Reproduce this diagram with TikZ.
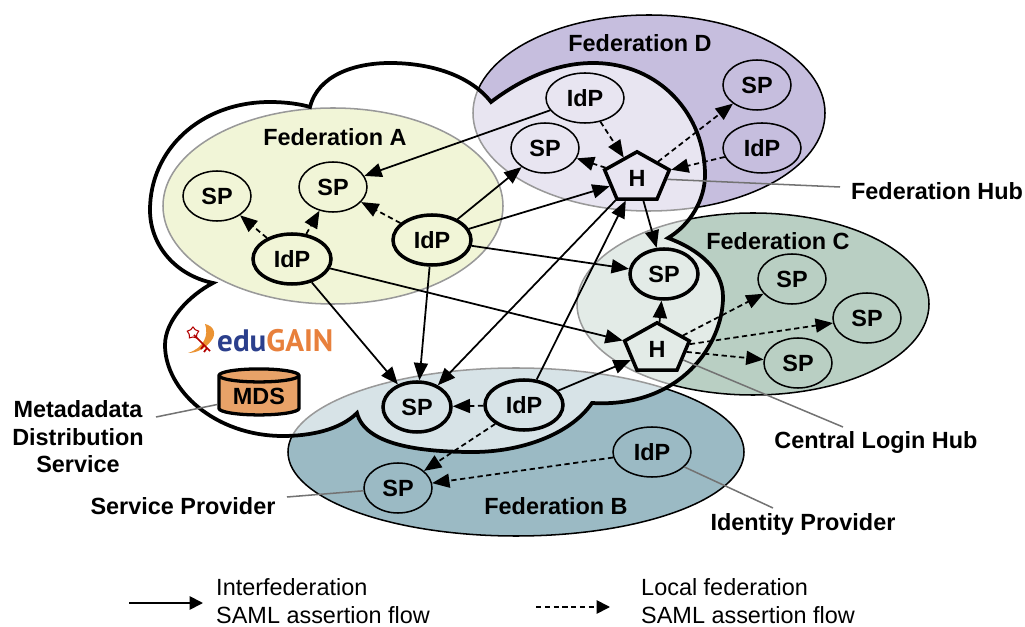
\documentclass[tikz,border=0pt]{standalone}
\usepackage{fontspec}
\setmainfont{Liberation Sans}
\newfontfamily\logofont{PT Sans}
\usepackage{xcolor}
\usetikzlibrary{arrows.meta, shapes.geometric}
\definecolor{fedAcol}{RGB}{222,230,157}
\definecolor{fedBcol}{RGB}{155,186,196}
\definecolor{fedCcol}{RGB}{185,207,195}
\definecolor{fedDcol}{RGB}{198,190,222}
\definecolor{mdscol}{RGB}{232,162,104}
\definecolor{edublue}{RGB}{43,63,140}
\definecolor{gainorange}{RGB}{232,128,60}
\newcommand{\boldtext}{\bfseries\fontsize{20}{23.5}\selectfont}
\newcommand{\plaintext}{\fontsize{20}{23.8}\selectfont}
\tikzset{
    every node/.style={font=\boldtext, inner sep=0pt},
    federation/.style={ellipse, draw=black, line width=1.3pt},
    sp/.style={ellipse, draw=black, line width=1.3pt, minimum width=2.04cm, minimum height=1.5cm},
    idp/.style={ellipse, draw=black, line width=1.3pt, minimum width=2.34cm, minimum height=1.5cm},
    strong/.style={line width=3pt},
    hub/.style={regular polygon, regular polygon sides=5, draw=black, line width=3pt, minimum size=2.04cm, yscale=0.77, transform shape},
    flow/.style={line width=1.5pt, -{Triangle[length=0.52cm, width=0.42cm]}},
    localflow/.style={flow, dash pattern=on 4.5pt off 3pt},
    legendtip/.style={-{Triangle[length=0.4cm, width=0.4cm]}},
    leader/.style={line width=1.3pt, draw=black!55},
    fedlabel/.style={font=\boldtext},
    sidelabel/.style={font=\boldtext, align=center},
    legendtext/.style={font=\plaintext, align=left, anchor=west},
}
\begin{document}
\begin{tikzpicture}[x=0.03cm, y=-0.03cm]
    \useasboundingbox (0,0) rectangle (1025,627);

    % Federations
    \node (fedA) [federation, fill=fedAcol, minimum width=10.2cm, minimum height=5.88cm] at (333,206) {};
    \node (fedD) [federation, fill=fedDcol, minimum width=10.56cm, minimum height=5.88cm] at (649,113) {};
    \node (fedC) [federation, fill=fedCcol, minimum width=10.56cm, minimum height=5.46cm] at (753,304) {};
    \node (fedB) [federation, fill=fedBcol, minimum width=13.68cm, minimum height=5.04cm] at (516,452) {};

    % Cloud
    \draw [line width=3.2pt, line join=miter, fill=white, fill opacity=0.6]
        (310,107) .. controls (318,75) and (355,63) .. (390,63)
        .. controls (430,63) and (470,75) .. (491,102)
        .. controls (520,80) and (555,63) .. (593,63)
        .. controls (660,63) and (705,115) .. (705,175)
        .. controls (705,200) and (690,225) .. (668,238)
        .. controls (700,250) and (723,270) .. (723,297)
        .. controls (723,345) and (680,408) .. (592,403)
        .. controls (570,435) and (520,452) .. (473,452)
        .. controls (420,452) and (365,445) .. (357,413)
        .. controls (340,430) and (310,436) .. (283,436)
        .. controls (215,436) and (165,390) .. (165,345)
        .. controls (165,320) and (190,295) .. (213,283)
        .. controls (175,275) and (150,245) .. (150,210)
        .. controls (150,150) and (200,102) .. (270,102)
        .. controls (285,102) and (300,104) .. (310,107) -- cycle;

    % Federation names
    \node (nameA) [fedlabel] at (335,137) {Federation A};
    \node (nameD) [fedlabel] at (640,43) {Federation D};
    \node (nameC) [fedlabel] at (778,241) {Federation C};
    \node (nameB) [fedlabel] at (556,506) {Federation B};

    % Federation A
    \node (spA1) [sp] at (217,196) {SP};
    \node (spA2) [sp] at (333,187) {SP};
    \node (idpA1) [idp, strong] at (292,259) {IdP};
    \node (idpA2) [idp, strong] at (432,240) {IdP};

    % Federation D
    \node (idpD1) [idp] at (585,98) {IdP};
    \node (spD1) [sp] at (545,148) {SP};
    \node (spD2) [sp] at (757,85) {SP};
    \node (idpD2) [idp] at (762,148) {IdP};
    \node (hubD) [hub] at (637,178) {\scalebox{1}[1.3]{H}};

    % Federation C
    \node (spC1) [sp, strong] at (664,274) {SP};
    \node (spC2) [sp] at (792,279) {SP};
    \node (spC3) [sp] at (867,318) {SP};
    \node (spC4) [sp] at (798,363) {SP};
    \node (hubC) [hub] at (657,349) {\scalebox{1}[1.3]{H}};

    % Federation B
    \node (spB1) [sp, strong] at (417,407) {SP};
    \node (idpB1) [idp, strong] at (524,405) {IdP};
    \node (spB2) [sp] at (398,488) {SP};
    \node (idpB2) [idp] at (652,452) {IdP};

    % Metadata store and logo
    \node (mds) [cylinder, shape border rotate=90, shape aspect=0.25, draw=black, line width=2.8pt,
        cylinder uses custom fill, cylinder body fill=mdscol, cylinder end fill=mdscol,
        minimum width=2.4cm, minimum height=1.38cm] at (259,396) {MDS};
    \node (logo) [font=\logofont\bfseries\fontsize{26.5}{28}\selectfont, anchor=west] at (217,341) {\textcolor{edublue}{edu}\textcolor{gainorange}{GAIN}};
    \fill [gainorange!85!yellow] (188,353) .. controls (204,348) and (209,335) .. (205,324)
        .. controls (214,326) and (217,334) .. (211,341) .. controls (205,349) and (196,353) .. (188,353) -- cycle;
    \draw [line width=1.5pt, draw=red!70!black] (194,335) -- (210,351) (204,345) -- (201,349) (207,348) -- (204,352);
    \node (logoStar) [star, star points=5, draw=red!70!black, line width=0.9pt, minimum size=0.36cm] at (193,333) {};

    % Local federation flows
    \draw [localflow] (idpA1) -- (spA1);
    \draw [localflow] (idpA1) -- (spA2);
    \draw [localflow] (idpA2) -- (spA2);
    \draw [localflow] (idpD1) -- (hubD);
    \draw [localflow] (hubD) -- (spD1);
    \draw [localflow] (hubD) -- (spD2);
    \draw [localflow] (idpD2) -- (hubD);
    \draw [localflow] (hubC) -- (spC2);
    \draw [localflow] (hubC) -- (spC3);
    \draw [localflow] (hubC) -- (spC4);
    \draw [localflow] (idpB1) -- (spB1);
    \draw [localflow] (idpB1) -- (spB2);
    \draw [localflow] (idpB2) -- (spB2);

    % Interfederation flows
    \draw [flow] (idpD1) -- (spA2);
    \draw [flow] (idpA2) -- (spD1);
    \draw [flow] (idpA2) -- (hubD);
    \draw [flow] (idpA2) -- (spC1);
    \draw [flow] (idpA2) -- (spB1);
    \draw [flow] (idpA1) -- (spB1);
    \draw [flow] (idpA1) -- (hubC);
    \draw [flow] (hubD) -- (spB1);
    \draw [flow] (idpB1) -- (hubD);
    \draw [flow] (idpB1) -- (hubC);
    \draw [flow] (hubD) -- (spC1);
    \draw [flow] (hubC) -- (spC1);

    % Side labels
    \node (labelHub) [sidelabel] at (937,191) {Federation Hub};
    \node (labelLogin) [sidelabel] at (876,442) {Central Login Hub};
    \node (labelIdp) [sidelabel] at (803,524) {Identity Provider};
    \node (labelSp) [sidelabel] at (183,506) {Service Provider};
    \node (labelMds) [sidelabel] at (78,437) {Metadadata\\Distribution\\Service};
    \coordinate (endHub) at (840,187);
    \coordinate (endLogin) at (843,427);
    \coordinate (endIdp) at (773,508);
    \coordinate (endSp) at (287,497);
    \coordinate (endMds) at (156,417);
    \draw [leader] (hubD) -- (endHub);
    \draw [leader] (hubC) -- (endLogin);
    \draw [leader] (idpB2) -- (endIdp);
    \draw [leader] (spB2) -- (endSp);
    \draw [leader] (mds) -- (endMds);

    % Legend
    \coordinate (legA) at (129,603);
    \coordinate (legB) at (203,603);
    \coordinate (legC) at (536,607);
    \coordinate (legD) at (610,607);
    \draw [flow, legendtip] (legA) -- (legB);
    \draw [localflow, legendtip] (legC) -- (legD);
    \node (textInter) [legendtext] at (216,601) {Interfederation\\SAML assertion flow};
    \node (textLocal) [legendtext] at (641,601) {Local federation\\SAML assertion flow};
\end{tikzpicture}
\end{document}
